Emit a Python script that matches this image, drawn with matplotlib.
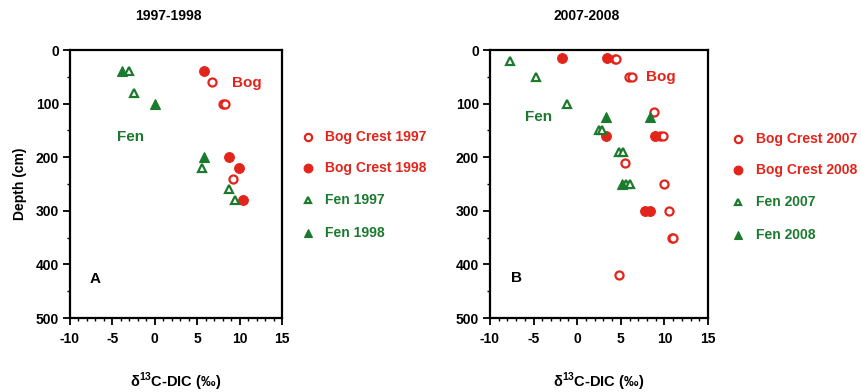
import matplotlib
matplotlib.use("Agg")
import matplotlib.pyplot as plt
from matplotlib.ticker import MultipleLocator
from matplotlib import font_manager

names = {f.name for f in font_manager.fontManager.ttflist}
narrow = "Liberation Sans Narrow" if "Liberation Sans Narrow" in names else "Liberation Sans"
plt.rcParams['font.family'] = [narrow, 'DejaVu Sans']
plt.rcParams['font.weight'] = 'bold'
plt.rcParams['axes.unicode_minus'] = False
plt.rcParams['mathtext.fontset'] = 'custom'
plt.rcParams['mathtext.rm'] = narrow
plt.rcParams['mathtext.bf'] = narrow + ':bold'

RED = '#e3241b'
GREEN = '#1b7a2e'

# Panel A data (delta13C-DIC, depth cm)
bog97_x = [6.7, 8.0, 8.3, 9.2]
bog97_y = [60, 100, 100, 240]
bog98_x = [5.75, 8.8, 9.95, 10.45]
bog98_y = [40, 200, 220, 280]
fen97_x = [-3.0, -2.5, 5.6, 8.8, 9.4]
fen97_y = [40, 80, 220, 260, 280]
fen98_x = [-3.9, 0.0, 5.8]
fen98_y = [40, 100, 200]

# Panel B data
bog07_x = [4.3, 4.45, 5.9, 6.25, 8.8, 9.5, 9.85, 5.5, 10.0, 10.55, 10.85, 10.95, 4.8]
bog07_y = [17, 17, 50, 50, 115, 160, 160, 210, 250, 300, 350, 350, 420]
bog08_x = [-1.7, 3.38, 3.35, 8.9, 7.8, 8.3]
bog08_y = [15, 15, 160, 160, 300, 300]
fen07_x = [-7.7, -4.75, -1.2, 2.45, 2.8, 4.85, 5.2, 5.65, 6.1]
fen07_y = [20, 50, 100, 150, 150, 190, 190, 250, 250]
fen08_x = [3.3, 8.4, 5.1]
fen08_y = [125, 125, 250]

W, H = 862, 392
fig = plt.figure(figsize=(W / 100, H / 100), dpi=100)


def px_axes(x0, y0, x1, y1):
    return fig.add_axes([x0 / W, 1 - y1 / H, (x1 - x0) / W, (y1 - y0) / H])


def style(ax):
    ax.set_xlim(-10, 15)
    ax.set_ylim(500, 0)
    ax.xaxis.set_major_locator(MultipleLocator(5))
    ax.xaxis.set_minor_locator(MultipleLocator(1))
    ax.yaxis.set_major_locator(MultipleLocator(100))
    ax.yaxis.set_minor_locator(MultipleLocator(50))
    for s in ax.spines.values():
        s.set_linewidth(1.6)
    ax.tick_params(which='major', length=5, width=1.3, labelsize=10, pad=3)
    ax.tick_params(axis='x', which='major', pad=5)
    ax.tick_params(which='minor', length=2.5, width=1.0)
    ax.set_xlabel('δ$^{\\mathbf{13}}$C-DIC (‰)', fontsize=10.5, fontweight='bold', labelpad=18)
    for lab in ax.get_xticklabels() + ax.get_yticklabels():
        lab.set_fontweight('bold')


def scatter_set(ax, data, labels):
    (bx1, by1), (bx2, by2), (fx1, fy1), (fx2, fy2) = data
    h1, = ax.plot(bx1, by1, 'o', ls='none', ms=5.8, mfc='white', mec=RED, mew=1.6, label=labels[0], clip_on=False)
    h2, = ax.plot(bx2, by2, 'o', ls='none', ms=7, mfc=RED, mec=RED, mew=0.8, label=labels[1], clip_on=False)
    h3, = ax.plot(fx1, fy1, '^', ls='none', ms=5.5, mfc='white', mec=GREEN, mew=1.6, label=labels[2], clip_on=False)
    h4, = ax.plot(fx2, fy2, '^', ls='none', ms=6.5, mfc=GREEN, mec=GREEN, mew=0.8, label=labels[3], clip_on=False)
    return [h1, h2, h3, h4]


def legend(handles, labels, xm, xt, ys):
    cols = [RED, RED, GREEN, GREEN]
    for h, lab, y, c in zip(handles, labels, ys, cols):
        fig.add_artist(plt.Line2D([xm / W], [1 - y / H], transform=fig.transFigure,
                                  marker=h.get_marker(), ms=h.get_markersize() * 0.9,
                                  mfc=h.get_markerfacecolor(), mec=h.get_markeredgecolor(),
                                  mew=h.get_markeredgewidth(), ls='none'))
        fig.text(xt / W, 1 - y / H, lab, color=c, fontsize=10, fontweight='bold', va='center', ha='left')


# Panel A
axA = px_axes(70, 50, 282, 318)
style(axA)
labA = ['Bog Crest 1997', 'Bog Crest 1998', 'Fen 1997', 'Fen 1998']
hA = scatter_set(axA, [(bog97_x, bog97_y), (bog98_x, bog98_y), (fen97_x, fen97_y), (fen98_x, fen98_y)], labA)
axA.set_ylabel('Depth (cm)', fontsize=10, fontweight='bold', labelpad=6)
axA.text(10.9, 61, 'Bog', color=RED, fontsize=11, fontweight='bold', ha='center', va='center')
axA.text(-2.8, 163, 'Fen', color=GREEN, fontsize=11, fontweight='bold', ha='center', va='center')
axA.text(-7.05, 427, 'A', color='black', fontsize=11, fontweight='bold', ha='center', va='center')
fig.text(168 / W, 1 - 16 / H, '1997-1998', fontsize=10, fontweight='bold', ha='center', va='center')
legend(hA, labA, 308, 325, [137, 168, 200, 233])

# Panel B
axB = px_axes(490, 50, 708, 318)
style(axB)
labB = ['Bog Crest 2007', 'Bog Crest 2008', 'Fen 2007', 'Fen 2008']
hB = scatter_set(axB, [(bog07_x, bog07_y), (bog08_x, bog08_y), (fen07_x, fen07_y), (fen08_x, fen08_y)], labB)
axB.text(9.56, 51, 'Bog', color=RED, fontsize=11, fontweight='bold', ha='center', va='center')
axB.text(-4.45, 125, 'Fen', color=GREEN, fontsize=11, fontweight='bold', ha='center', va='center')
axB.text(-7.0, 426, 'B', color='black', fontsize=11, fontweight='bold', ha='center', va='center')
fig.text(587 / W, 1 - 16 / H, '2007-2008', fontsize=10, fontweight='bold', ha='center', va='center')
legend(hB, labB, 738, 756, [139, 170, 202, 235])

fig.savefig('out.png', dpi=100)
